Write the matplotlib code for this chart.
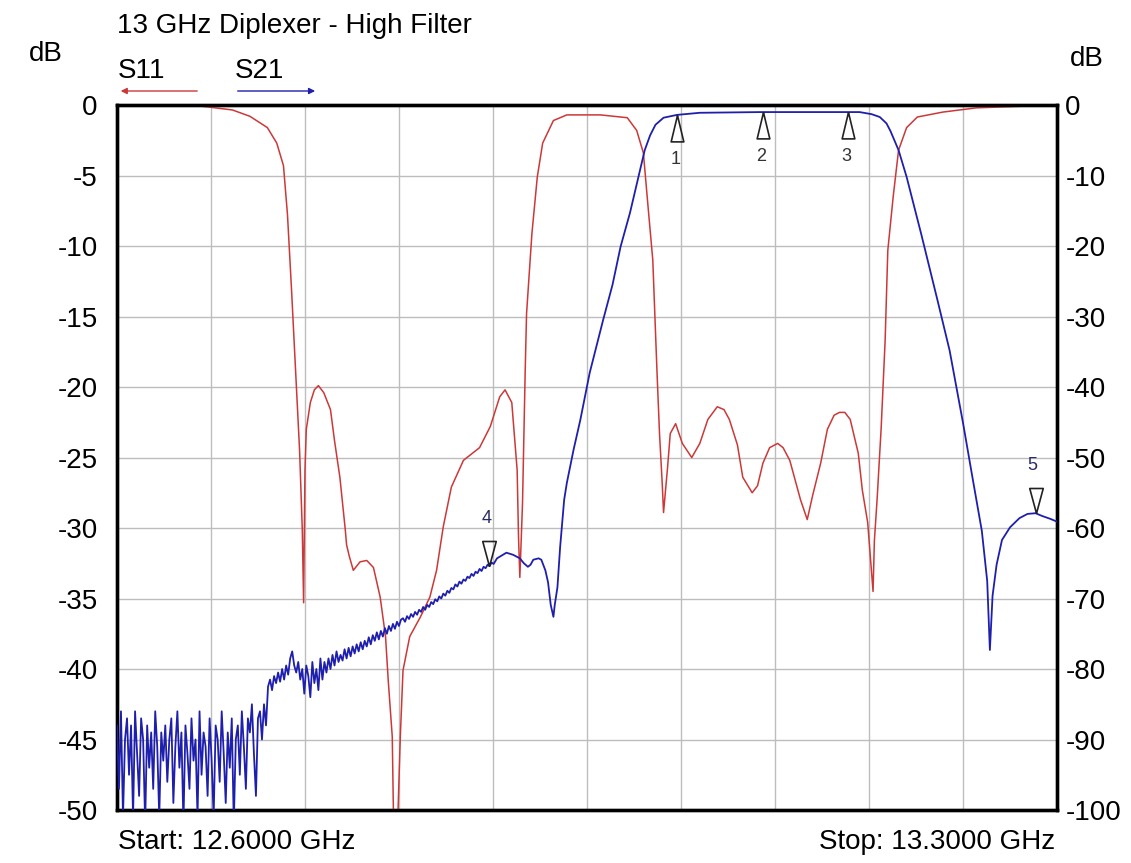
#!/usr/bin/env python3
"""Network analyser sweep of the 13 GHz diplexer high filter: S11 and S21."""

import matplotlib

matplotlib.use("Agg")
import matplotlib.pyplot as plt
import numpy as np

plt.rcParams["font.family"] = ["Liberation Sans", "DejaVu Sans"]

TITLE = "13 GHz Diplexer - High Filter"
START_GHZ = 12.6
STOP_GHZ = 13.3

# S11 (left axis, dB)
S11_FREQ = [
    12.600, 12.662, 12.686, 12.699, 12.712, 12.719, 12.724, 12.727, 12.730, 12.733,
    12.736, 12.738, 12.739, 12.740, 12.741, 12.744, 12.747, 12.750, 12.754, 12.759,
    12.762, 12.766, 12.770, 12.771, 12.773, 12.776, 12.781, 12.786, 12.791, 12.796,
    12.800, 12.802, 12.805, 12.806, 12.809, 12.811, 12.813, 12.818, 12.826, 12.833,
    12.838, 12.843, 12.849, 12.858, 12.870, 12.878, 12.885, 12.889, 12.894, 12.898,
    12.899, 12.900, 12.901, 12.902, 12.903, 12.904, 12.905, 12.909, 12.913, 12.917,
    12.925, 12.935, 12.960, 12.980, 12.987, 12.992, 12.995, 12.999, 13.002, 13.004,
    13.006, 13.007, 13.010, 13.012, 13.016, 13.021, 13.028, 13.034, 13.040, 13.047,
    13.052, 13.056, 13.062, 13.066, 13.073, 13.077, 13.081, 13.086, 13.092, 13.096,
    13.101, 13.109, 13.114, 13.118, 13.124, 13.129, 13.134, 13.138, 13.142, 13.146,
    13.152, 13.155, 13.159, 13.163, 13.164, 13.166, 13.169, 13.172, 13.174, 13.178,
    13.182, 13.188, 13.196, 13.215, 13.240, 13.278, 13.300,
]
S11_DB = [
    -0.07, -0.07, -0.35, -0.8, -1.6, -2.7, -4.3, -7.8, -13.1, -18.8,
    -24.5, -30.1, -35.3, -25.9, -23.0, -21.1, -20.2, -19.9, -20.4, -21.6,
    -23.8, -26.4, -30.1, -31.2, -32.0, -33.0, -32.4, -32.3, -32.8, -34.9,
    -37.7, -40.8, -44.8, -51.0, -51.0, -44.8, -40.1, -37.7, -36.3, -34.9,
    -33.0, -29.9, -27.1, -25.2, -24.3, -22.8, -20.7, -20.2, -21.1, -25.9,
    -30.6, -33.5, -30.9, -28.2, -23.5, -18.8, -14.8, -9.1, -5.1, -2.7,
    -1.1, -0.7, -0.7, -0.9, -1.8, -3.4, -6.7, -11.0, -18.6, -23.3,
    -26.8, -28.9, -25.7, -23.3, -22.6, -24.0, -25.0, -24.0, -22.3, -21.4,
    -21.6, -22.3, -24.1, -26.4, -27.5, -27.0, -25.4, -24.3, -24.0, -24.3,
    -25.2, -28.0, -29.4, -27.7, -25.4, -23.0, -22.0, -21.8, -21.8, -22.3,
    -24.7, -27.3, -29.6, -34.5, -30.9, -28.0, -23.0, -16.7, -10.3, -6.5,
    -3.2, -1.6, -0.85, -0.5, -0.2, -0.07, -0.07,
]

# S21 (right axis, dB): noisy low end read point by point on the sweep grid
S21_SWEEP_START = 12.600
S21_SWEEP_STEP = 0.0015
S21_SWEEP_DB = [
    -88, -97, -86, -101, -90, -87, -95, -88, -101, -86,
    -92, -98, -87, -90, -102, -88, -94, -89, -97, -86,
    -91, -101, -89, -93, -88, -96, -90, -87, -99, -91,
    -86, -94, -89, -102, -88, -92, -97, -87, -93, -90,
    -101, -86, -95, -89, -91, -98, -87, -93, -101, -88,
    -90, -96, -86, -92, -99, -89, -94, -87, -102, -90,
    -88, -95, -86, -91, -97, -87, -89, -85, -92, -98,
    -87, -86, -90, -85, -88,
    -82.5, -81.5, -83, -81, -82, -80.5, -81.8, -80, -81.5, -79.5,
    -80.8, -78.5, -77.5, -79.5, -80.5, -79, -81.5, -80, -83.5, -79.5,
    -81, -84, -79, -82, -80, -83, -78.5, -81.5, -79, -80.5,
    -78.5, -80, -78, -79.5, -77.5, -79, -78, -78.8, -77.2, -78.5,
    -77, -78.2, -76.8, -77.8, -76.5, -77.5, -76.2, -77.2, -76, -76.8,
    -75.5, -76.5, -75.2, -76, -74.8, -75.8, -74.6, -75.4, -74.2, -75,
    -73.9, -74.6, -73.6, -74.3, -73.3, -73.9, -73.0,
    -72.8, -73.3, -72.5, -72.9, -72.2, -72.6, -71.9, -72.3, -71.6, -71.9,
    -71.2, -71.6, -70.9, -71.2, -70.5, -70.8, -70.1, -70.4, -69.7, -70.0,
    -69.3, -69.6, -68.9, -69.2, -68.5, -68.7, -68.0, -68.3, -67.6, -67.9,
    -67.3, -67.5, -66.9, -67.1, -66.5, -66.8, -66.2, -66.4, -65.8, -66.1,
    -65.5, -65.7, -65.2, -65.4, -64.9, -65.1,
]
S21_FREQ = [
    12.883, 12.890, 12.895, 12.900, 12.903, 12.906, 12.908, 12.910, 12.914, 12.916,
    12.919, 12.921, 12.923, 12.925, 12.926, 12.928, 12.930, 12.933, 12.935, 12.940,
    12.945, 12.952, 12.962, 12.969, 12.975, 12.982, 12.989, 12.993, 12.997, 13.001,
    13.007, 13.017, 13.034, 13.079, 13.153, 13.162, 13.168, 13.173, 13.176, 13.182,
    13.188, 13.199, 13.211, 13.220, 13.230, 13.237, 13.244, 13.248, 13.250, 13.252,
    13.255, 13.259, 13.265, 13.272, 13.278, 13.284, 13.289, 13.295, 13.300,
]
S21_DB = [
    -64.3, -63.5, -63.8, -64.3, -65.0, -65.5, -65.2, -64.5, -64.3, -64.5,
    -66.0, -67.7, -70.9, -72.6, -70.9, -68.4, -62.7, -56.0, -53.6, -48.9,
    -44.7, -38.0, -30.5, -25.5, -20.1, -15.3, -9.6, -6.4, -4.3, -2.8,
    -1.8, -1.4, -1.1, -1.0, -1.0, -1.3, -1.7, -2.6, -3.7, -6.4,
    -10.2, -18.4, -27.7, -34.8, -45.1, -52.8, -60.4, -67.5, -77.3, -69.6,
    -65.2, -61.7, -59.9, -58.6, -58.0, -57.9, -58.3, -58.7, -59.1,
]

MARKER_FREQ = [13.017, 13.081, 13.144, 12.877, 13.284]
MARKER_LABELS = ["1", "2", "3", "4", "5"]
MARKER_POINTS_UP = [True, True, True, False, False]

LEFT_TICKS = [0, -5, -10, -15, -20, -25, -30, -35, -40, -45, -50]
RIGHT_TICKS = [0, -10, -20, -30, -40, -50, -60, -70, -80, -90, -100]

RED = "#cc3838"
BLUE = "#1f1fae"
FS = 20


def s21_trace():
    sweep_f = S21_SWEEP_START + S21_SWEEP_STEP * np.arange(len(S21_SWEEP_DB))
    f = np.concatenate([sweep_f, S21_FREQ])
    db = np.concatenate([S21_SWEEP_DB, S21_DB])
    return f, db


def main():
    fig = plt.figure(figsize=(11.31, 8.63), dpi=100)
    ax = fig.add_axes([0.1034, 0.0614, 0.8312, 0.8169])
    ax2 = ax.twinx()

    f21, db21 = s21_trace()
    ax.plot(S11_FREQ, S11_DB, color=RED, lw=1.1, zorder=3)
    ax2.plot(f21, db21, color=BLUE, lw=1.3, zorder=3)

    ax.set_xlim(START_GHZ, STOP_GHZ)
    ax.set_ylim(-50, 0)
    ax2.set_ylim(-100, 0)
    ax.set_xticks(np.linspace(START_GHZ, STOP_GHZ, 11))
    ax.set_xticklabels([])
    ax.set_yticks(LEFT_TICKS)
    ax.set_yticklabels([str(t) for t in LEFT_TICKS], fontsize=FS)
    ax2.set_yticks(RIGHT_TICKS)
    ax2.set_yticklabels([str(t) for t in RIGHT_TICKS], fontsize=FS)
    ax.tick_params(axis="both", length=0)
    ax.tick_params(axis="y", pad=14)
    ax2.tick_params(axis="y", length=0, pad=6)
    ax.grid(True, color="#bdbdbd", lw=1.0)
    for a in (ax, ax2):
        for sp in a.spines.values():
            sp.set_linewidth(2.4)
            sp.set_color("black")

    # markers on the S21 trace
    up = [(0, 0), (-0.24, -1), (0.24, -1), (0, 0)]
    down = [(0, 0), (-0.27, 1), (0.27, 1), (0, 0)]
    for freq, label, is_up in zip(MARKER_FREQ, MARKER_LABELS, MARKER_POINTS_UP):
        y = np.interp(freq, f21, db21)
        ax2.plot([freq], [y], marker=up if is_up else down, ms=38 if is_up else 36,
                 mfc="none", mec="#222222", mew=1.2, zorder=4, clip_on=False)
        ax2.annotate(label, (freq, y), textcoords="offset points",
                     xytext=(-1, -32) if is_up else (-2, 34), ha="center", va="center",
                     fontsize=13, color="#333333" if is_up else "#2a2a66")

    tr = ax.transAxes
    ax.text(0.0, 1.1115, TITLE, transform=tr, ha="left", va="center", fontsize=FS)
    ax.text(-0.0574, 1.072, "dB", transform=tr, ha="right", va="center", fontsize=FS)
    ax.text(1.0138, 1.065, "dB", transform=tr, ha="left", va="center", fontsize=FS)
    ax.text(0.001, 1.048, "S11", transform=tr, ha="left", va="center", fontsize=FS)
    ax.text(0.1255, 1.048, "S21", transform=tr, ha="left", va="center", fontsize=FS)
    ax.annotate("", xy=(0.001, 1.0199), xytext=(0.0883, 1.0199), xycoords=tr,
                arrowprops=dict(arrowstyle="-|>", color=RED, lw=1.0, mutation_scale=9),
                annotation_clip=False)
    ax.annotate("", xy=(0.2138, 1.0199), xytext=(0.1255, 1.0199), xycoords=tr,
                arrowprops=dict(arrowstyle="-|>", color=BLUE, lw=1.0, mutation_scale=9),
                annotation_clip=False)
    ax.text(0.001, -0.0454, "Start: 12.6000 GHz", transform=tr, ha="left", va="center",
            fontsize=FS)
    ax.text(0.9979, -0.0454, "Stop: 13.3000 GHz", transform=tr, ha="right", va="center",
            fontsize=FS)

    fig.savefig("out.png", dpi=100, facecolor="white")
    plt.close(fig)


if __name__ == "__main__":
    main()
